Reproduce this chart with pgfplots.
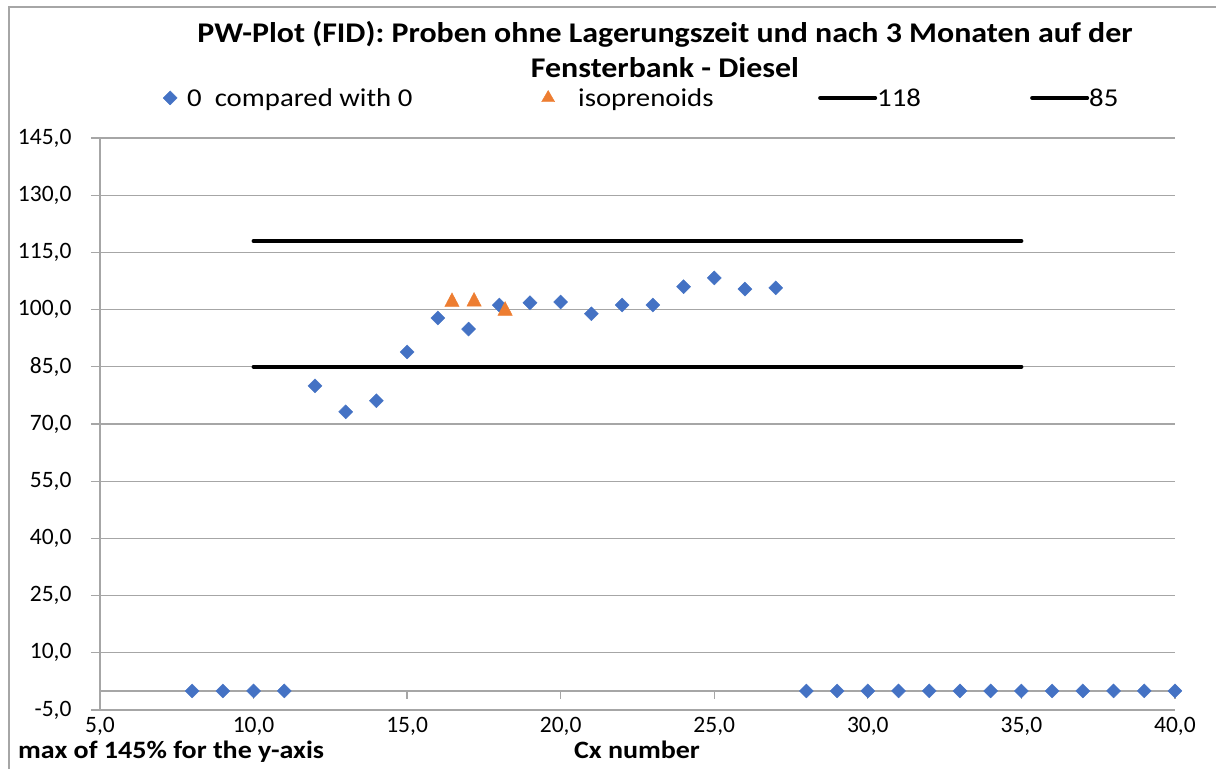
\documentclass[border=0pt]{standalone}
\usepackage{pgfplots}
\pgfplotsset{compat=1.18}
\usepackage{fontspec}
\setmainfont{Carlito}[FakeStretch=1.12]
\newfontfamily\tickfont{Carlito}
\definecolor{cblue}{HTML}{4472C4}
\definecolor{corange}{HTML}{ED7D31}
\definecolor{cgrid}{HTML}{A6A6A6}
\begin{document}
\begin{tikzpicture}
\useasboundingbox (0pt,0pt) rectangle (1216pt,-769pt);
\draw[cgrid, line width=1.3pt] (9pt,-769pt) -- (9pt,-7pt) -- (1216pt,-7pt);
\node[anchor=base, font=\bfseries\fontsize{28.5}{34}\selectfont] at (665pt,-42pt) {PW-Plot (FID): Proben ohne Lagerungszeit und nach 3 Monaten auf der};
\node[anchor=base, font=\bfseries\fontsize{28.5}{34}\selectfont] at (665pt,-77pt) {Fensterbank - Diesel};
\node[anchor=base west, font=\bfseries\fontsize{25}{30}\selectfont, inner sep=0pt] at (18pt,-758pt) {max of 145\% for the y-axis};
\node[anchor=base, font=\bfseries\fontsize{25}{30}\selectfont, inner sep=0pt] at (637pt,-758pt) {Cx number};
\begin{axis}[
  at={(100pt,-710pt)}, anchor=south west,
  scale only axis, width=1075pt, height=572pt,
  xmin=5, xmax=40, ymin=-5, ymax=145,
  xtick={5,10,...,40}, ytick={-5,10,...,145},
  axis y line*=left, axis x line*=bottom,
  x axis line style={draw=none},
  y axis line style={cgrid, line width=1.3pt},
  ymajorgrids, grid style={cgrid, line width=1.3pt},
  xtick style={draw=none},
  ytick style={cgrid, line width=1.3pt},
  tick align=outside, major tick length=9pt,
  /pgf/number format/assume math mode=true,
  /pgf/number format/.cd, fixed, fixed zerofill, precision=1, use comma,
  /pgfplots/.cd,
  ticklabel style={font=\tickfont\fontsize{23.5}{28}\selectfont},
  yticklabel style={xshift=-16pt},
  xticklabel style={yshift=5pt},
  legend columns=4,
  legend style={at={(axis description cs:0.0558,1.07)}, anchor=west, draw=none, fill=none,
    inner xsep=0pt, inner ysep=0pt, nodes={inner sep=0pt, text depth=0pt},
    cells={anchor=west}, font=\fontsize{25.7}{30}\selectfont},
  clip=false,
]
\addplot[only marks, mark=square*, mark size=4.95pt, mark options={rotate=45, fill=cblue, draw=cblue},
  legend image code/.code={\path[draw=none] (-10pt,0pt) -- (17pt,0pt);
    \path[only marks, mark=square*, mark size=4.95pt, mark options={rotate=45, fill=cblue, draw=cblue}] plot coordinates {(0pt,0pt)};}]
  coordinates {(8,0)(9,0)(10,0)(11,0)(12,80.0)(13,73.2)(14,76.1)(15,88.9)(16,97.8)(17,94.9)(18,101.2)(19,101.8)(20,102.0)(21,98.9)(22,101.2)(23,101.2)(24,106.0)(25,108.3)(26,105.4)(27,105.7)(28,0)(29,0)(30,0)(31,0)(32,0)(33,0)(34,0)(35,0)(36,0)(37,0)(38,0)(39,0)(40,0)};
\addlegendentry{\makebox[351pt][l]{0\ \ compared with 0}}
\addplot[only marks, mark=triangle*, mark size=8.3pt, mark options={fill=corange, draw=corange, yscale=1.1},
  legend image code/.code={\path[draw=none] (-10pt,0pt) -- (30pt,0pt);
    \path[only marks, mark=triangle*, mark size=7.5pt, mark options={fill=corange, draw=corange}] plot coordinates {(0pt,0pt)};}]
  coordinates {(16.46,102.0)(17.18,102.1)(18.19,99.7)};
\addlegendentry{\makebox[240pt][l]{isoprenoids}}
\addplot[black, line width=4pt, line cap=round,
  legend image code/.code={\draw[black, line width=4pt] (0pt,0pt) -- (55pt,0pt); \path[draw=none] (0pt,0pt) -- (57pt,0pt);}]
  coordinates {(10,118)(35,118)};
\addlegendentry{\makebox[153pt][l]{118}}
\addplot[black, line width=4pt, line cap=round,
  legend image code/.code={\draw[black, line width=4pt] (0pt,0pt) -- (55pt,0pt); \path[draw=none] (0pt,0pt) -- (57pt,0pt);}]
  coordinates {(10,85)(35,85)};
\addlegendentry{85}
\draw[cgrid, line width=1.3pt] (axis cs:5,0) -- (axis cs:40,0);
\pgfplotsinvokeforeach{10,15,20,25,30,35,40}{\draw[cgrid, line width=1.3pt] (axis cs:#1,0) -- ++(0pt,-8pt);}
\end{axis}
\end{tikzpicture}
\end{document}
